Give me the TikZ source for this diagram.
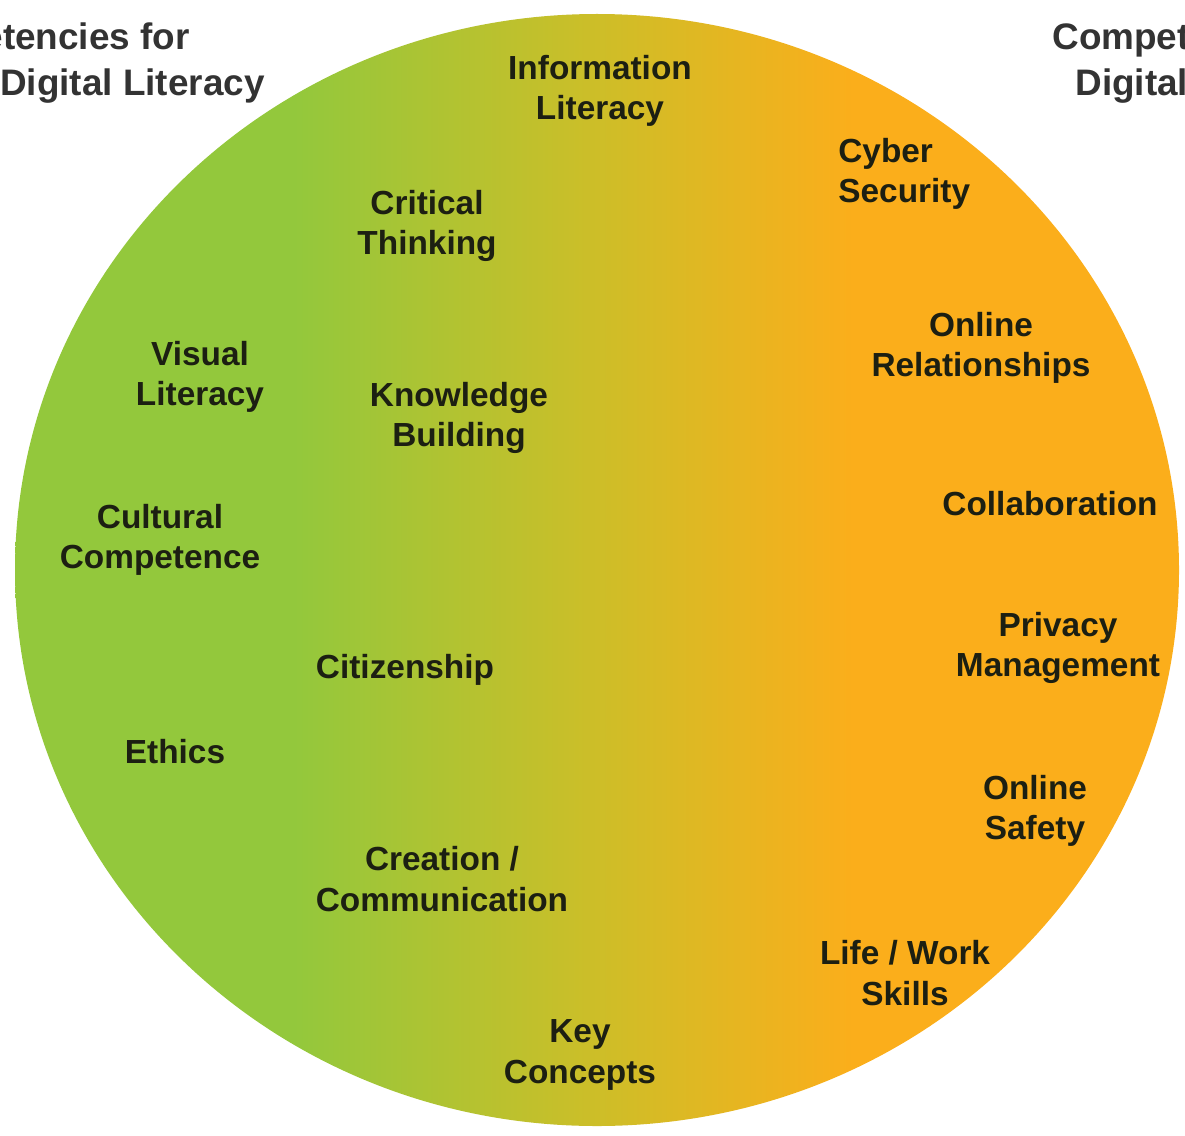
\documentclass[tikz,border=0pt]{standalone}
\usepackage{fontspec}
\setmainfont{Liberation Sans}
\usepackage{xcolor}
\definecolor{dlgreen}{HTML}{93C83C}
\definecolor{dlolive}{HTML}{CDBE28}
\definecolor{dlorange}{HTML}{FBAE1B}
\definecolor{dltext}{HTML}{1C1F12}
\definecolor{dlgray}{HTML}{333333}
\pgfdeclarehorizontalshading{greenorange}{100bp}{color(0bp)=(dlgreen); color(37bp)=(dlgreen); color(50bp)=(dlolive); color(61bp)=(dlorange); color(100bp)=(dlorange)}

\begin{document}
\begin{tikzpicture}[x=0.02cm, y=-0.02cm,
    skill/.style = {align=center, font=\fontsize{19}{23}\selectfont\bfseries, text=dltext, inner sep=0pt},
    corner/.style = {font=\fontsize{21}{25}\selectfont\bfseries, text=dlgray, inner sep=0pt}]
        \useasboundingbox (0, 0) rectangle (1185, 1135);
        \clip (0, 0) rectangle (1185, 1135);
        % Circle
        \shade [shading = greenorange] (597, 570) ellipse [x radius = 582, y radius = 556];
        % Corner titles (cut by the frame)
        \node [corner, anchor = base east] (tl1) at (190, 50) {Competencies for};
        \node [corner, anchor = base east] (tl2) at (265, 96) {Digital Literacy};
        \node [corner, anchor = base west] (tr1) at (1052, 50) {Competencies for};
        \node [corner, anchor = base west] (tr2) at (1075, 96) {Digital Literacy};
        % Nodes
        \node [skill] (info) at (600, 91) {Information\\Literacy};
        \node [skill, align = left, anchor = west] (cyber) at (838, 174) {Cyber\\Security};
        \node [skill] (critical) at (427, 226) {Critical\\Thinking};
        \node [skill] (visual) at (200, 377) {Visual\\Literacy};
        \node [skill] (knowledge) at (459, 418) {Knowledge\\Building};
        \node [skill] (relations) at (981, 348) {Online\\Relationships};
        \node [skill] (collab) at (1050, 504) {Collaboration};
        \node [skill] (cultural) at (160, 540) {Cultural\\Competence};
        \node [skill] (privacy) at (1058, 648) {Privacy\\Management};
        \node [skill] (citizen) at (405, 670) {Citizenship};
        \node [skill] (ethics) at (175, 752) {Ethics};
        \node [skill] (safety) at (1035, 811) {Online\\Safety};
        \node [skill] (creation) at (442, 879) {Creation /\\Communication};
        \node [skill] (lifework) at (905, 973) {Life / Work\\Skills};
        \node [skill] (key) at (580, 1055) {Key\\Concepts};
\end{tikzpicture}
\end{document}
